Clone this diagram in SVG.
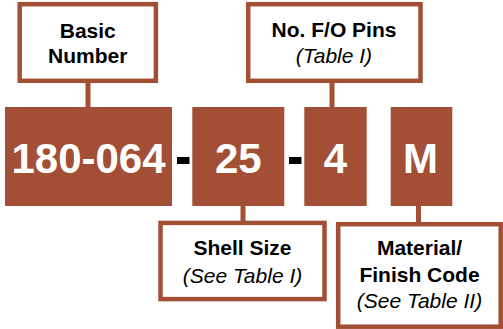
<svg xmlns="http://www.w3.org/2000/svg" width="503" height="329" viewBox="0 0 503 329">
<style>
.lbl{fill:#fff;stroke:#A24F36;stroke-width:4.5}
.seg{fill:#A24F36}
.big{font-family:"Liberation Sans",Arial,sans-serif;font-weight:bold;font-size:42px;fill:#fff;text-anchor:middle}
.t{font-family:"Liberation Sans",Arial,sans-serif;font-weight:bold;font-size:21px;fill:#000;text-anchor:middle}
.i{font-family:"Liberation Sans",Arial,sans-serif;font-style:italic;font-size:21px;fill:#000;text-anchor:middle}
.dash{font-family:"Liberation Sans",Arial,sans-serif;font-weight:bold;font-size:42px;fill:#000;text-anchor:middle}
.c{stroke:#A24F36;stroke-width:5;fill:none}
</style>
<g id="connectors">
<line class="c" x1="88" y1="82" x2="88" y2="107"/>
<line class="c" x1="332" y1="82" x2="332" y2="107"/>
<line class="c" x1="243" y1="206" x2="243" y2="222"/>
<line class="c" x1="418.5" y1="206" x2="418.5" y2="223"/>
</g>
<g id="seg-basic">
<rect class="seg" x="5" y="107" width="167" height="99"/>
<text class="big" x="88.5" y="173">180-064</text>
</g>
<g id="dash1"><rect x="177" y="157" width="12.5" height="7" fill="#000"/></g>
<g id="seg-shell">
<rect class="seg" x="192.3" y="107" width="92" height="99"/>
<text class="big" x="238.3" y="173">25</text>
</g>
<g id="dash2"><rect x="289" y="157" width="12.5" height="7" fill="#000"/></g>
<g id="seg-pins">
<rect class="seg" x="304.3" y="107" width="62.4" height="99"/>
<text class="big" x="335.5" y="173">4</text>
</g>
<g id="seg-material">
<rect class="seg" x="390.7" y="107" width="61.6" height="99"/>
<text class="big" x="420.5" y="173">M</text>
</g>
<g id="box-basic">
<rect class="lbl" x="19.7" y="4.2" width="136.2" height="76.6"/>
<text class="t" x="87.8" y="37.7">Basic</text>
<text class="t" x="87.8" y="63.3">Number</text>
</g>
<g id="box-pins">
<rect class="lbl" x="248.2" y="4.2" width="172.3" height="76.6"/>
<text class="t" x="334" y="37.3">No. F/O Pins</text>
<text class="i" x="334" y="63">(Table I)</text>
</g>
<g id="box-shell">
<rect class="lbl" x="160.5" y="222.9" width="164" height="76.2"/>
<text class="t" x="242.5" y="255">Shell Size</text>
<text class="i" x="242.5" y="283">(See Table I)</text>
</g>
<g id="box-material">
<rect class="lbl" x="338.2" y="224.2" width="162.5" height="102.5"/>
<text class="t" x="419.5" y="255">Material/</text>
<text class="t" x="419.5" y="281.7">Finish Code</text>
<text class="i" x="419.5" y="308.3">(See Table II)</text>
</g>
</svg>
